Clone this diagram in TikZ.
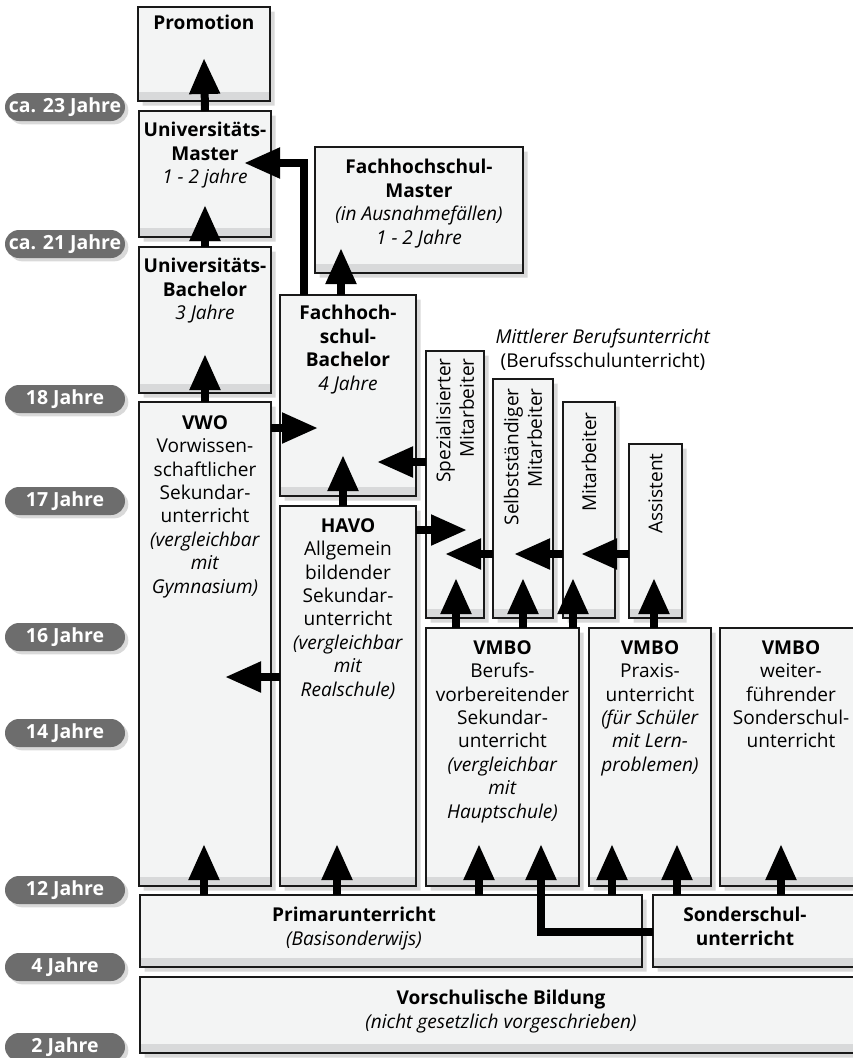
\documentclass[tikz,border=0pt]{standalone}
\usepackage{fontspec}
\setmainfont{Open Sans}
\usetikzlibrary{arrows.meta,shapes.misc,shadows,calc,positioning}

\definecolor{boxfill}{HTML}{F3F4F4}
\definecolor{boxfoot}{HTML}{D8D9DA}
\definecolor{pillgray}{HTML}{6D6D6D}

\tikzset{
  schule/.style={chamfered rectangle, chamfered rectangle corners=south west,
    chamfered rectangle xsep=4pt, chamfered rectangle ysep=7pt,
    draw=black!90, line width=1pt, fill=boxfill, inner sep=0pt, outer sep=0pt,
    drop shadow={shadow xshift=3.5pt, shadow yshift=-3.5pt, opacity=0.3},
    path picture={\fill[boxfoot] (path picture bounding box.south west)
      rectangle ([yshift=7pt]path picture bounding box.south east);}},
  schuleR/.style={schule, chamfered rectangle corners=south east},
  txt/.style={align=center, inner sep=0pt, font=\fontsize{14.3}{17.6}\selectfont},
  vtxt/.style={txt, align=right, rotate=90, anchor=east},
  alter/.style={rounded rectangle, fill=pillgray, text=white, inner sep=0pt,
    minimum width=90pt, minimum height=21pt,
    font=\fontsize{14.6}{16}\selectfont\bfseries,
    drop shadow={shadow xshift=2.5pt, shadow yshift=-2.5pt, opacity=0.3}},
  pfeil/.style={line width=6pt, line join=miter,
    -{Triangle[width=21.75pt,length=27pt]}}
}

\begin{document}
\begin{tikzpicture}[x=0.75pt, y=-0.75pt]
\def\pxu{0.75pt}
\useasboundingbox (0,0) rectangle (853,1058);

% age markers on the left
\foreach \yy/\alt in {107/ca. 23 Jahre, 244/ca. 21 Jahre, 399/18 Jahre,
    501/17 Jahre, 637/16 Jahre, 733/14 Jahre, 890/12 Jahre, 967/4 Jahre,
    1047/2 Jahre} {
  \node[alter] (alter\yy) at (65,\yy) {\alt};
}

% university and Fachhochschule
\node[schule, minimum width=132*\pxu, minimum height=94*\pxu] (promo) at (204,54) {};
\node[schule, minimum width=132*\pxu, minimum height=126*\pxu] (umaster) at (205,174) {};
\node[schule, minimum width=132*\pxu, minimum height=146*\pxu] (ubach) at (205,320) {};
\node[schule, minimum width=208*\pxu, minimum height=126*\pxu] (fhmaster) at (419,210) {};
\node[schule, minimum width=136*\pxu, minimum height=201*\pxu] (fhbach) at (348,395.5) {};

% secondary schools
\node[schule, minimum width=132*\pxu, minimum height=484*\pxu] (vwo) at (205,644) {};
\node[schule, minimum width=136*\pxu, minimum height=380*\pxu] (havo) at (348,696) {};
\node[schuleR, minimum width=153*\pxu, minimum height=258*\pxu] (vmboA) at (502.5,757) {};
\node[schuleR, minimum width=122*\pxu, minimum height=258*\pxu] (vmboB) at (650,757) {};
\node[schule, minimum width=142*\pxu, minimum height=258*\pxu] (vmboC) at (791,757) {};

% Berufsschule
\node[schuleR, minimum width=58*\pxu, minimum height=267*\pxu] (spez) at (455,484.5) {};
\node[schuleR, minimum width=60*\pxu, minimum height=239*\pxu] (selb) at (523,498.5) {};
\node[schuleR, minimum width=52*\pxu, minimum height=216*\pxu] (mita) at (589,510) {};
\node[schuleR, minimum width=53*\pxu, minimum height=174*\pxu] (assi) at (655.5,531) {};

% primary and pre-school
\node[schule, minimum width=502*\pxu, minimum height=72*\pxu] (primar) at (391,931) {};
\node[schule, minimum width=209*\pxu, minimum height=72*\pxu] (sonder) at (757.5,931) {};
\node[schule, minimum width=722*\pxu, minimum height=76*\pxu] (vorschul) at (501,1015) {};

% box texts
\node[txt, below=6pt of promo.north] (promoT) {\textbf{Promotion}};
\node[txt, below=8.25pt of umaster.north] (umasterT)
  {\textbf{Universitäts-}\\\textbf{Master}\\\textit{1 - 2 jahre}};
\node[txt, below=8.25pt of ubach.north] (ubachT)
  {\textbf{Universitäts-}\\\textbf{Bachelor}\\\textit{3 Jahre}};
\node[txt, below=9pt of fhmaster.north] (fhmasterT)
  {\textbf{Fachhochschul-}\\\textbf{Master}\\\textit{(in Ausnahmefällen)}\\\textit{1 - 2 Jahre}};
\node[txt, below=7.5pt of fhbach.north] (fhbachT)
  {\textbf{Fachhoch-}\\\textbf{schul-}\\\textbf{Bachelor}\\\textit{4 Jahre}};
\node[txt, below=9.75pt of vwo.north] (vwoT)
  {\textbf{VWO}\\Vorwissen-\\schaftlicher\\Sekundar-\\unterricht\\
   \textit{(vergleichbar}\\\textit{mit}\\\textit{Gymnasium)}};
\node[txt, below=9pt of havo.north] (havoT)
  {\textbf{HAVO}\\Allgemein\\bildender\\Sekundar-\\unterricht\\
   \textit{(vergleichbar}\\\textit{mit}\\\textit{Realschule)}};
\node[txt, below=9pt of vmboA.north] (vmboAT)
  {\textbf{VMBO}\\Berufs-\\vorbereitender\\Sekundar-\\unterricht\\
   \textit{(vergleichbar}\\\textit{mit}\\\textit{Hauptschule)}};
\node[txt, below=9pt of vmboB.north] (vmboBT)
  {\textbf{VMBO}\\Praxis-\\unterricht\\\textit{(für Schüler}\\\textit{mit Lern-}\\\textit{problemen)}};
\node[txt, below=9pt of vmboC.north] (vmboCT)
  {\textbf{VMBO}\\weiter-\\führender\\Sonderschul-\\unterricht};
\node[txt, below=9pt of primar.north, xshift=-27.75pt] (primarT)
  {\textbf{Primarunterricht}\\\textit{(Basisonderwijs)}};
\node[txt, below=9pt of sonder.north, xshift=-9.4pt] (sonderT)
  {\textbf{Sonderschul-}\\\textbf{unterricht}};
\node[txt, below=9.75pt of vorschul.north] (vorschulT)
  {\textbf{Vorschulische Bildung}\\\textit{(nicht gesetzlich vorgeschrieben)}};

% rotated texts
\node[vtxt] (spezT) at ($(spez.north)+(0,7)$) {Spezialisierter\\Mitarbeiter};
\node[vtxt] (selbT) at ($(selb.north)+(0,9)$) {Selbstständiger\\Mitarbeiter};
\node[vtxt] (mitaT) at ($(mita.north)+(0,10)$) {Mitarbeiter};
\node[vtxt] (assiT) at ($(assi.north)+(0,9)$) {Assistent};
\node[txt, anchor=north] (mbu) at (603,329)
  {\textit{Mittlerer Berufsunterricht}\\(Berufsschulunterricht)};

% arrows, upper part
\draw[pfeil] (umaster.north) -- ($(promo.south)+(0,-43)$);
\draw[pfeil] (ubach.north) -- ($(umaster.south)+(0,-32)$);
\draw[pfeil] (vwo.north) -- ($(ubach.south)+(0,-39)$);
\draw[pfeil] ($(fhbach.north)+(-44,0)$) |- ($(umaster.east)+(-27,-11)$);
\draw[pfeil] ($(fhbach.north)+(-7,0)$) -- ($(fhmaster.south)+(-78,-25)$);
\draw[pfeil] ($(vwo.east)+(0,-216)$) -- ($(fhbach.west)+(38,32.5)$);
\draw[pfeil] ($(havo.north)+(-5,0)$) -- ($(fhbach.south)+(-5,-41)$);
\draw[pfeil] ($(spez.west)+(0,-22.5)$) -- ($(fhbach.east)+(-39,66.5)$);
\draw[pfeil] ($(havo.east)+(0,-166)$) -- ($(spez.west)+(41,45.5)$);
\draw[pfeil] ($(selb.west)+(0,55.5)$) -- ($(spez.east)+(-39,69.5)$);
\draw[pfeil] ($(mita.west)+(0,44)$) -- ($(selb.east)+(-39,55.5)$);
\draw[pfeil] ($(assi.west)+(0,23)$) -- ($(mita.east)+(-34,44)$);
\draw[pfeil] ($(havo.west)+(0,-19)$) -- ($(vwo.east)+(-46,33)$);

% arrows out of VMBO
\draw[pfeil] ($(vmboA.north)+(-46.5,0)$) -- ($(spez.south)+(1,-40)$);
\draw[pfeil] ($(vmboA.north)+(20.5,0)$) -- ($(selb.south)+(0,-40)$);
\draw[pfeil] ($(vmboA.north)+(70.5,0)$) -- ($(mita.south)+(-16,-40)$);
\draw[pfeil] ($(vmboB.north)+(4,0)$) -- ($(assi.south)+(-1.5,-40)$);

% arrows out of primary school
\draw[pfeil] ($(primar.north)+(-187,0)$) -- ($(vwo.south)+(-1,-42)$);
\draw[pfeil] ($(primar.north)+(-54,0)$) -- ($(havo.south)+(-11,-42)$);
\draw[pfeil] ($(primar.north)+(88,0)$) -- ($(vmboA.south)+(-23.5,-42)$);
\draw[pfeil] ($(primar.north)+(221,0)$) -- ($(vmboB.south)+(-38,-42)$);
\draw[pfeil] ($(sonder.west)+(0,1)$) -| ($(vmboA.south)+(38.5,-42)$);
\draw[pfeil] ($(sonder.north)+(-80.5,0)$) -- ($(vmboB.south)+(27,-42)$);
\draw[pfeil] ($(sonder.north)+(23.5,0)$) -- ($(vmboC.south)+(-10,-42)$);

\end{tikzpicture}
\end{document}
